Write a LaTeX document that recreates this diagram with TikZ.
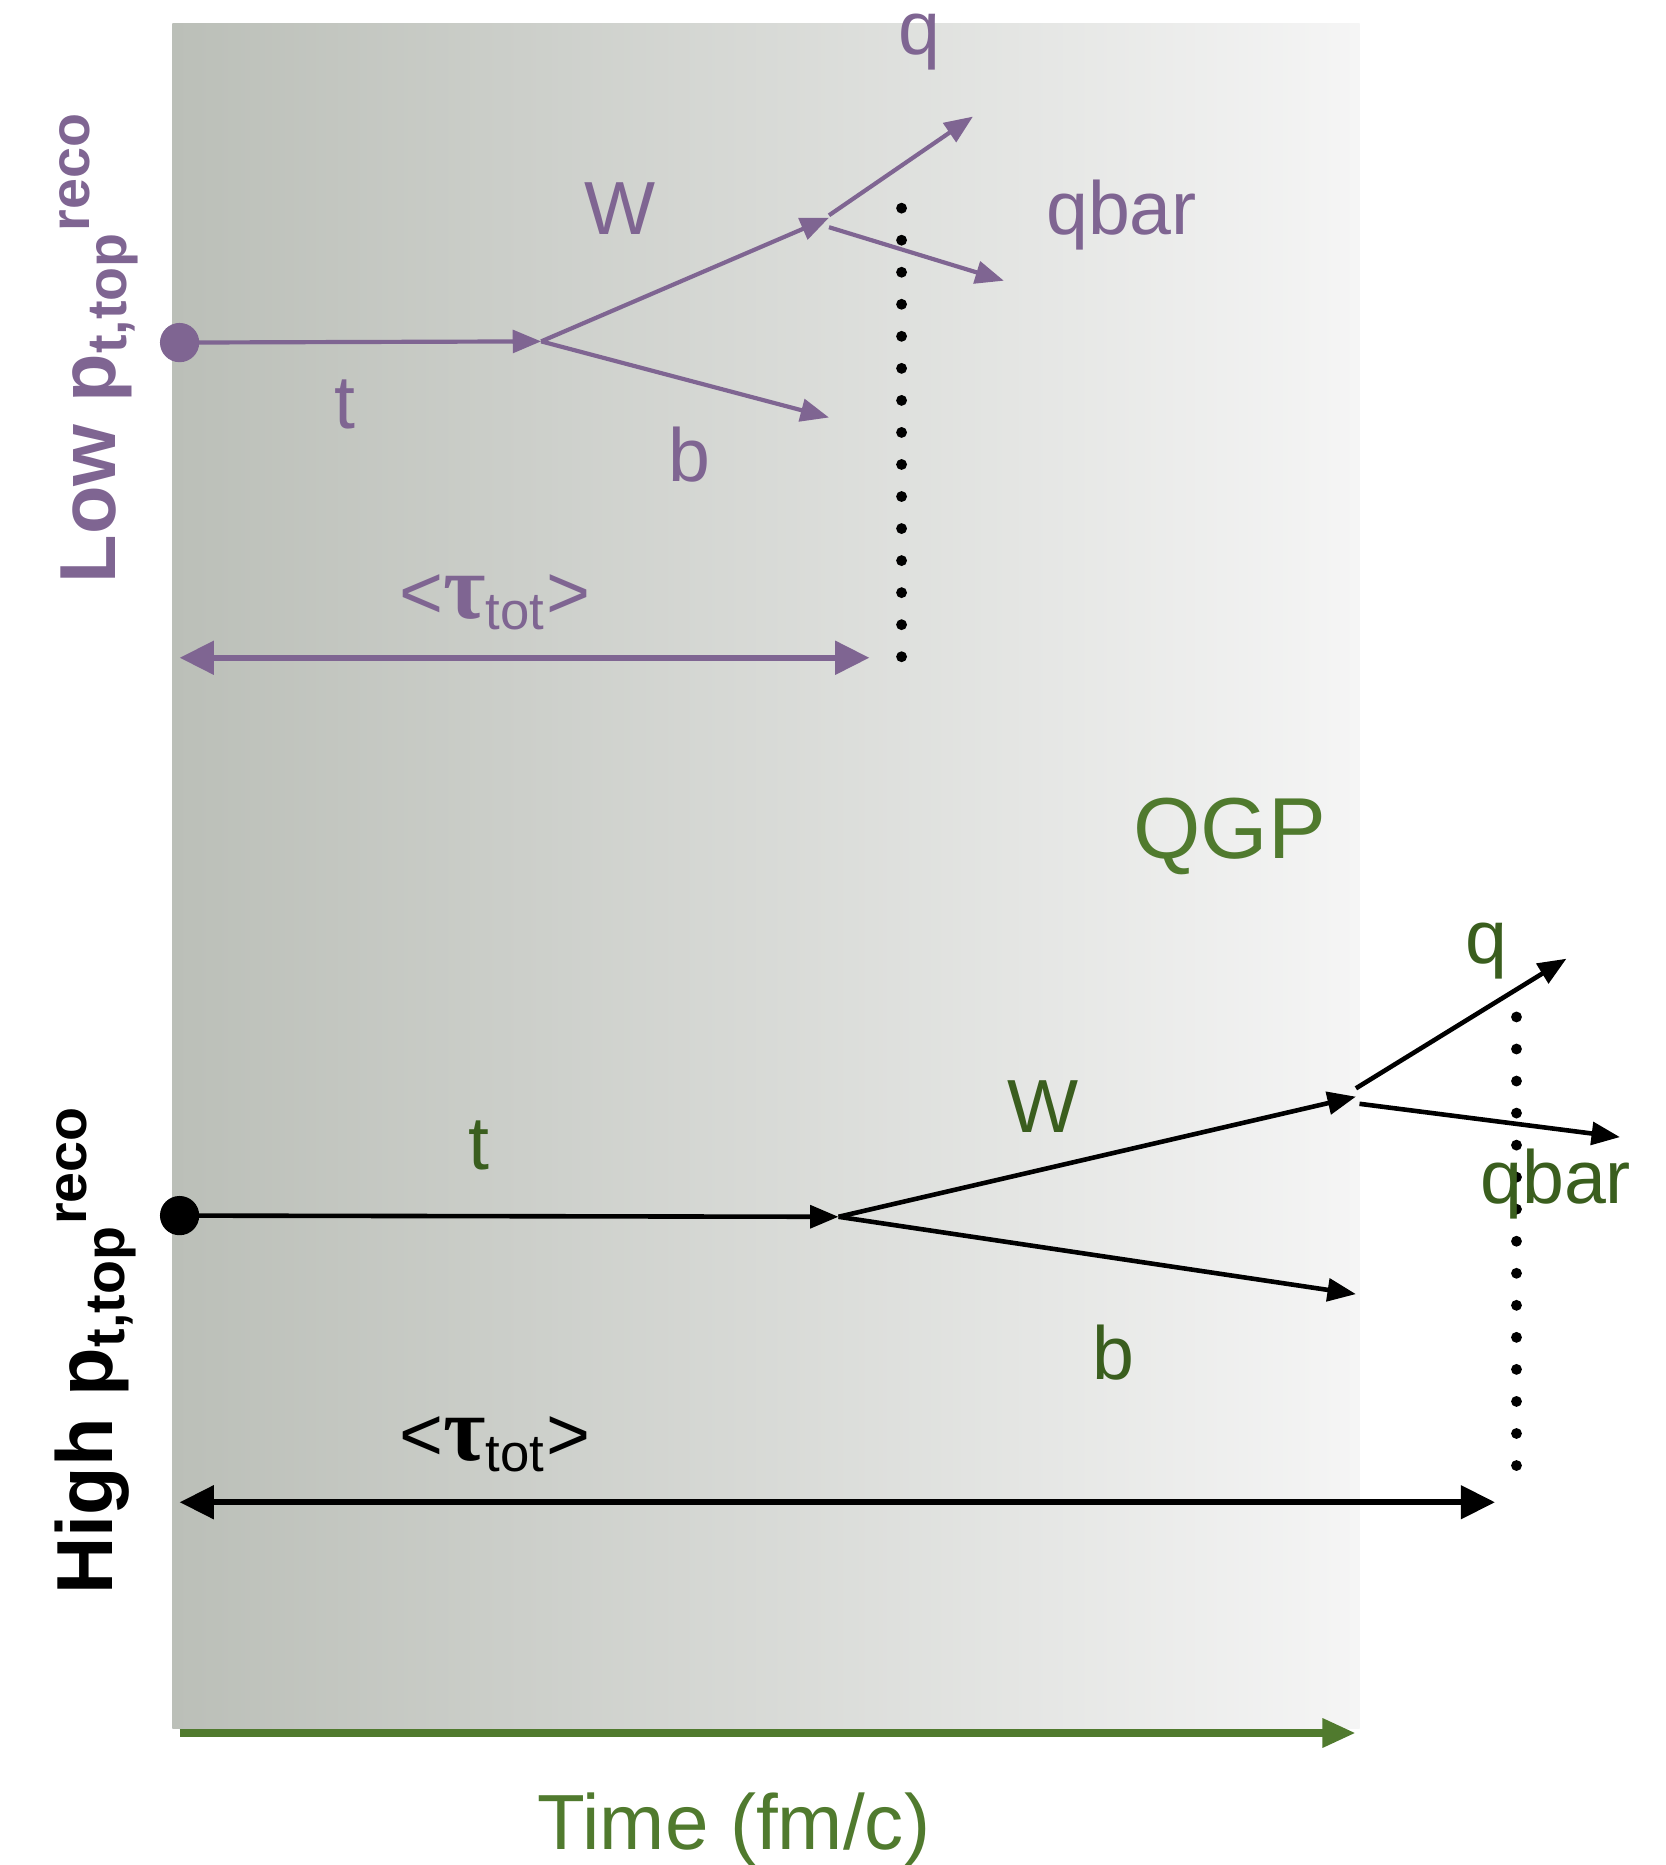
\documentclass[tikz,border=0pt]{standalone}
\usepackage{fontspec}
\setmainfont{Liberation Sans}
\newfontfamily\greekfont{Liberation Serif}
\usetikzlibrary{arrows.meta,positioning}
\definecolor{lowpurple}{HTML}{7F6592}
\definecolor{qgpgreen}{HTML}{507A2E}
\definecolor{darkgreen}{HTML}{3A5E1E}
\definecolor{shadeleft}{HTML}{BBBFB8}
\definecolor{shaderight}{HTML}{F5F5F5}
\tikzset{
lbl/.style={anchor=base,inner sep=0pt,font=\fontsize{18}{20}\selectfont},
sidelbl/.style={anchor=base,inner sep=0pt,rotate=90,font=\fontsize{19}{22}\selectfont\bfseries},
startdot/.style={circle,fill,inner sep=0pt,minimum size=.33cm},
pline/.style={lowpurple,line width=1pt,-{Triangle[length=6.8pt,width=5.4pt]}},
bline/.style={black,line width=1.1pt,-{Triangle[length=6.8pt,width=5.4pt]}},
tauarrow/.style={line width=1.5pt,{Triangle[length=8.2pt,width=7.8pt]}-{Triangle[length=8.2pt,width=7.8pt]}},
dotline/.style={black,line width=2.6pt,line cap=round,dash pattern=on 0pt off 7.66pt}
}
\newcommand{\tautot}{{<}{\greekfont\bfseries\fontsize{22}{24}\selectfont τ}\textsubscript{tot}{>}}
\begin{document}
\begin{tikzpicture}[x=0.01cm,y=-0.01cm]
\useasboundingbox (0,0) rectangle (1400,1568);
\shade[left color=shadeleft,right color=shaderight] (145,20) rectangle (1143,1453);

% low pt: early decay
\node[startdot,lowpurple] (lowdot) at (151,288) {};
\coordinate (lowvtx) at (455,287);
\coordinate (loww) at (697,183);
\coordinate (lowb) at (697,351);
\coordinate (lowqs) at (697,181);
\coordinate (lowq) at (818,98);
\coordinate (lowqbs) at (697,191);
\coordinate (lowqb) at (844,236);
\coordinate (lowdottop) at (758,175);
\coordinate (lowdotbot) at (758,553);
\coordinate (lowtaul) at (151,553);
\coordinate (lowtaur) at (731,553);

\draw[pline] (lowdot.center) -- (lowvtx);
\draw[pline] (lowvtx) -- (loww);
\draw[pline] (lowvtx) -- (lowb);
\draw[pline] (lowqs) -- (lowq);
\draw[pline] (lowqbs) -- (lowqb);
\draw[dotline] (lowdottop) -- (lowdotbot);
\draw[tauarrow,lowpurple] (lowtaul) -- (lowtaur);

\node[lbl,lowpurple] (lowtlbl) at (290,360) {t};
\node[lbl,lowpurple] (lowwlbl) at (521,197) {W};
\node[lbl,lowpurple] (lowblbl) at (580,405) {b};
\node[lbl,lowpurple] (lowqlbl) at (773,46) {q};
\node[lbl,lowpurple] (lowqblbl) at (943,197) {qbar};
\node[lbl,lowpurple] (lowtau) at (416,520) {\tautot};
\node[sidelbl,lowpurple] (lowside) at (97,292) {Low p\textsubscript{t,top}\textsuperscript{reco}};

\node[lbl,qgpgreen,font=\fontsize{20.7}{23}\selectfont] (qgp) at (1034,722) {QGP};

% high pt: late decay
\node[startdot,black] (highdot) at (151,1022) {};
\coordinate (highvtx) at (705,1023);
\coordinate (highw) at (1140,922);
\coordinate (highb) at (1140,1088);
\coordinate (highqs) at (1140,915);
\coordinate (highq) at (1317,806);
\coordinate (highqbs) at (1143,928);
\coordinate (highqb) at (1362,956);
\coordinate (highdottop) at (1275,855);
\coordinate (highdotbot) at (1275,1233);
\coordinate (hightaul) at (151,1263);
\coordinate (hightaur) at (1257,1263);

\draw[bline] (highdot.center) -- (highvtx);
\draw[bline] (highvtx) -- (highw);
\draw[bline] (highvtx) -- (highb);
\draw[bline] (highqs) -- (highq);
\draw[bline] (highqbs) -- (highqb);
\draw[dotline] (highdottop) -- (highdotbot);
\draw[tauarrow,black] (hightaul) -- (hightaur);

\node[lbl,darkgreen] (hightlbl) at (403,983) {t};
\node[lbl,darkgreen] (highwlbl) at (877,952) {W};
\node[lbl,darkgreen] (highblbl) at (936,1160) {b};
\node[lbl,darkgreen] (highqlbl) at (1250,810) {q};
\node[lbl,darkgreen] (highqblbl) at (1308,1012) {qbar};
\node[lbl,black] (hightau) at (416,1228) {\tautot};
\node[sidelbl,black] (highside) at (95,1135) {High p\textsubscript{t,top}\textsuperscript{reco}};

% time axis
\coordinate (timel) at (151,1457);
\coordinate (timer) at (1140,1457);
\draw[qgpgreen,line width=2pt,-{Triangle[length=8pt,width=6.5pt]}] (timel) -- (timer);
\node[lbl,qgpgreen,font=\fontsize{18.7}{21}\selectfont] (timelbl) at (617,1555) {Time (fm/c)};
\end{tikzpicture}
\end{document}
